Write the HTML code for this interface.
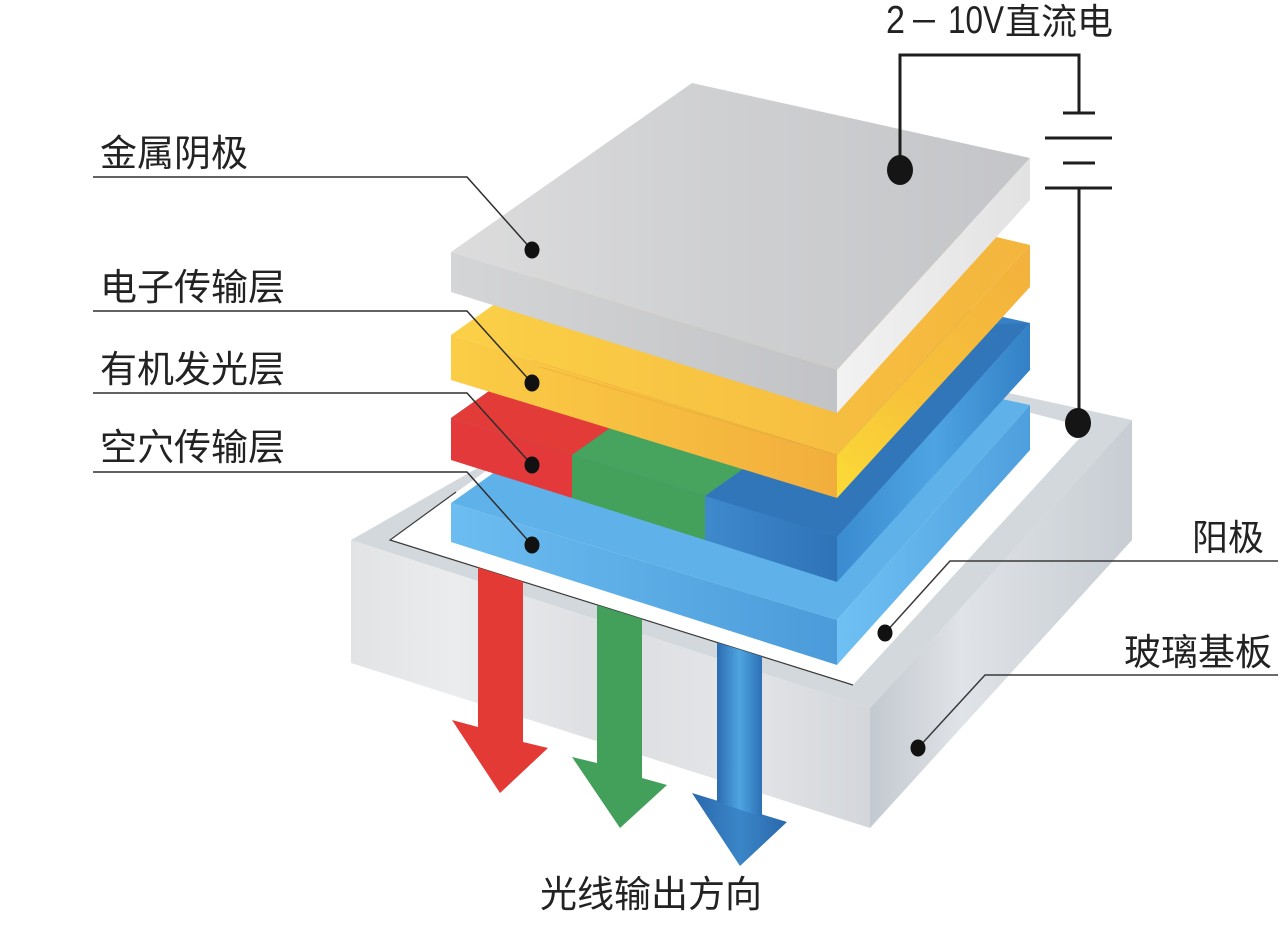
<!DOCTYPE html>
<html>
<head>
<meta charset="utf-8">
<style>
  html,body{margin:0;padding:0;background:#fff;}
  body{width:1280px;height:936px;overflow:hidden;}
  svg{display:block;}
  .lbl{font-family:"Liberation Sans","Noto Sans CJK SC",sans-serif;fill:#222;}
</style>
</head>
<body>
<svg width="1280" height="936" viewBox="0 0 1280 936" xmlns="http://www.w3.org/2000/svg">
  <defs>
    <linearGradient id="glassL" x1="351" y1="0" x2="870" y2="0" gradientUnits="userSpaceOnUse">
      <stop offset="0" stop-color="#e2e3e5"/>
      <stop offset="0.2" stop-color="#ebecee"/>
      <stop offset="0.5" stop-color="#dcdee1"/>
      <stop offset="0.75" stop-color="#e3e5e8"/>
      <stop offset="1" stop-color="#d3d6da"/>
    </linearGradient>
    <linearGradient id="glassR" x1="870" y1="0" x2="1132" y2="0" gradientUnits="userSpaceOnUse">
      <stop offset="0" stop-color="#c3c9d0"/>
      <stop offset="0.35" stop-color="#e0e3e7"/>
      <stop offset="0.7" stop-color="#d2d7dc"/>
      <stop offset="1" stop-color="#c8cdd3"/>
    </linearGradient>
    <linearGradient id="grayTop" x1="451" y1="0" x2="1030" y2="0" gradientUnits="userSpaceOnUse">
      <stop offset="0" stop-color="#dcdcdd"/>
      <stop offset="0.45" stop-color="#cfd0d2"/>
      <stop offset="1" stop-color="#c4c5c8"/>
    </linearGradient>
    <linearGradient id="grayL" x1="451" y1="0" x2="837" y2="0" gradientUnits="userSpaceOnUse">
      <stop offset="0" stop-color="#d4d5d6"/>
      <stop offset="1" stop-color="#c2c3c6"/>
    </linearGradient>
    <linearGradient id="grayR" x1="837" y1="0" x2="1030" y2="0" gradientUnits="userSpaceOnUse">
      <stop offset="0" stop-color="#f2f2f2"/>
      <stop offset="1" stop-color="#e2e2e3"/>
    </linearGradient>
    <linearGradient id="yelTop" x1="451" y1="0" x2="1030" y2="0" gradientUnits="userSpaceOnUse">
      <stop offset="0" stop-color="#fbd047"/>
      <stop offset="1" stop-color="#f4b53d"/>
    </linearGradient>
    <linearGradient id="yelL" x1="451" y1="0" x2="837" y2="0" gradientUnits="userSpaceOnUse">
      <stop offset="0" stop-color="#fbcd45"/>
      <stop offset="1" stop-color="#f2ae3c"/>
    </linearGradient>
    <linearGradient id="yelR" x1="837" y1="498" x2="1030" y2="245" gradientUnits="userSpaceOnUse">
      <stop offset="0" stop-color="#fcdc36"/>
      <stop offset="0.4" stop-color="#f7c23a"/>
      <stop offset="1" stop-color="#f3b03d"/>
    </linearGradient>
    <linearGradient id="htlL" x1="451" y1="0" x2="837" y2="0" gradientUnits="userSpaceOnUse">
      <stop offset="0" stop-color="#6cbdf1"/>
      <stop offset="1" stop-color="#4b9bda"/>
    </linearGradient>
    <linearGradient id="htlR" x1="837" y1="0" x2="1030" y2="0" gradientUnits="userSpaceOnUse">
      <stop offset="0" stop-color="#6fc1f4"/>
      <stop offset="1" stop-color="#4e9fdd"/>
    </linearGradient>
    <linearGradient id="emR" x1="837" y1="0" x2="1030" y2="0" gradientUnits="userSpaceOnUse">
      <stop offset="0" stop-color="#3a8bd0"/>
      <stop offset="0.5" stop-color="#4ea4e2"/>
      <stop offset="1" stop-color="#3380c6"/>
    </linearGradient>
    <linearGradient id="dbL" x1="705" y1="0" x2="837" y2="0" gradientUnits="userSpaceOnUse">
      <stop offset="0" stop-color="#3e89cc"/>
      <stop offset="1" stop-color="#2f73b7"/>
    </linearGradient>
    <linearGradient id="blueArr" x1="717" y1="0" x2="762" y2="0" gradientUnits="userSpaceOnUse">
      <stop offset="0" stop-color="#2c6cb0"/>
      <stop offset="0.5" stop-color="#4ea5e0"/>
      <stop offset="1" stop-color="#2d70b5"/>
    </linearGradient>
    <linearGradient id="blueHead" x1="692" y1="0" x2="787" y2="0" gradientUnits="userSpaceOnUse">
      <stop offset="0" stop-color="#2a68ab"/>
      <stop offset="0.5" stop-color="#3a86c8"/>
      <stop offset="1" stop-color="#2a68ab"/>
    </linearGradient>
  </defs>

  <rect x="0" y="0" width="1280" height="936" fill="#fff"/>

  <!-- Glass substrate -->
  <polygon points="351,540 720,330 1132,420 870,708" fill="#d3d8dd"/>
  <polygon points="351,540 870,708 870,828 351,663" fill="url(#glassL)"/>
  <polygon points="870,708 1132,420 1132,540 870,828" fill="url(#glassR)"/>

  <!-- Anode -->
  <polygon points="390,540 690,324 1089,428 853,685" fill="#ffffff"/>
  <polyline points="456,492 390,540 853,685" fill="none" stroke="#3a3a3a" stroke-width="1.2"/>

  <!-- Arrows -->
  <polygon points="478,567.5 523,581.6 523,742 548,748 500,793 452,720 478,727" fill="#e43a36"/>
  <polygon points="597,605 642,619 642,778 667,785 620,828 572,757 597,763" fill="#42a05b"/>
  <polygon points="692,793 787,822 740,866" fill="url(#blueHead)"/>
  <polygon points="717,642.5 762,656.5 762,817 717,802" fill="url(#blueArr)"/>

  <!-- Hole transport layer -->
  <polygon points="451,503 691,333 1030,405 837,620" fill="#5fb2e9"/>
  <polygon points="451,503 837,620 837,665 451,542" fill="url(#htlL)"/>
  <polygon points="837,620 1030,405 1030,450 837,665" fill="url(#htlR)"/>

  <!-- Emitting layer -->
  <polygon points="451,418 691,248 1030,323 837,537" fill="#3681c6"/>
  <polygon points="451,418 691,248 812,285 572,455" fill="#e23b38"/>
  <polygon points="572,455 812,285 945,326 705,496" fill="#46a45e"/>
  <polygon points="705,496 945,326 1030,323 837,537" fill="#3176b9"/>
  <polygon points="451,418 572,455 572,498 451,460" fill="#e3393a"/>
  <polygon points="572,455 705,496 705,540 572,498" fill="#43a15b"/>
  <polygon points="705,496 837,537 837,582 705,540" fill="url(#dbL)"/>
  <polygon points="837,537 1030,323 1030,370 837,582" fill="url(#emR)"/>

  <!-- Electron transport layer -->
  <polygon points="451,335 691,165 1030,245 837,455" fill="url(#yelTop)"/>
  <polygon points="451,335 837,455 837,498 451,380" fill="url(#yelL)"/>
  <polygon points="837,455 1030,245 1030,287 837,498" fill="url(#yelR)"/>
  <line x1="540" y1="367" x2="837" y2="455" stroke="#e8a838" stroke-width="1" opacity="0.6"/>

  <!-- Metal cathode -->
  <polygon points="451,252 692,83 1030,158 837,370" fill="url(#grayTop)"/>
  <polygon points="451,252 837,370 837,413 451,292" fill="url(#grayL)"/>
  <polygon points="837,370 1030,158 1030,200 837,413" fill="url(#grayR)"/>

  <!-- Left leader lines -->
  <g fill="none" stroke="#2e2e2e" stroke-width="1.5">
    <polyline points="93,177 467,177 532,250"/>
    <polyline points="93,311 467,311 532,383"/>
    <polyline points="93,393 467,393 532,465"/>
    <polyline points="93,472 467,472 532,545"/>
  </g>
  <g fill="#111">
    <ellipse cx="532" cy="250" rx="7.5" ry="8.5"/>
    <ellipse cx="532" cy="383" rx="7.5" ry="8.5"/>
    <ellipse cx="532" cy="465" rx="7.5" ry="8.5"/>
    <ellipse cx="532" cy="545" rx="7.5" ry="8.5"/>
  </g>

  <!-- Right leader lines -->
  <g fill="none" stroke="#3a3a3a" stroke-width="1.5">
    <polyline points="1278,561 950,561 885,633"/>
    <polyline points="1278,675 985,675 918,748"/>
  </g>
  <g fill="#111">
    <ellipse cx="885" cy="633" rx="7.5" ry="8.5"/>
    <ellipse cx="918" cy="748" rx="7.5" ry="8.5"/>
  </g>

  <!-- Circuit -->
  <g fill="none" stroke="#1e1e1e" stroke-width="3">
    <polyline points="900,170 900,55 1079,55 1079,113"/>
    <line x1="1063" y1="113" x2="1095" y2="113"/>
    <line x1="1045" y1="138" x2="1112" y2="138"/>
    <line x1="1063" y1="163" x2="1095" y2="163"/>
    <line x1="1045" y1="188" x2="1112" y2="188"/>
    <line x1="1079" y1="188" x2="1079" y2="423"/>
  </g>
  <ellipse cx="900" cy="170" rx="13" ry="15" fill="#151515"/>
  <ellipse cx="1078" cy="423" rx="13" ry="15" fill="#151515"/>

  <!-- Labels -->
  <text class="lbl" x="100" y="166" font-size="37">金属阴极</text>
  <text class="lbl" x="100" y="300" font-size="37">电子传输层</text>
  <text class="lbl" x="100" y="382" font-size="37">有机发光层</text>
  <text class="lbl" x="100" y="460" font-size="37">空穴传输层</text>

  <text class="lbl" x="1264" y="550" font-size="36" text-anchor="end">阳极</text>
  <text class="lbl" x="1272" y="665" font-size="37" text-anchor="end">玻璃基板</text>

  <text class="lbl" x="540" y="907" font-size="37">光线输出方向</text>

  <text class="lbl" x="886" y="33" font-size="39" textLength="19" lengthAdjust="spacingAndGlyphs">2</text>
  <text class="lbl" x="913" y="31" font-size="38" textLength="22" lengthAdjust="spacingAndGlyphs">–</text>
  <text class="lbl" x="948" y="33" font-size="39" textLength="56" lengthAdjust="spacingAndGlyphs">10V</text>
  <text class="lbl" x="1005" y="34" font-size="36">直流电</text>
</svg>
</body>
</html>
